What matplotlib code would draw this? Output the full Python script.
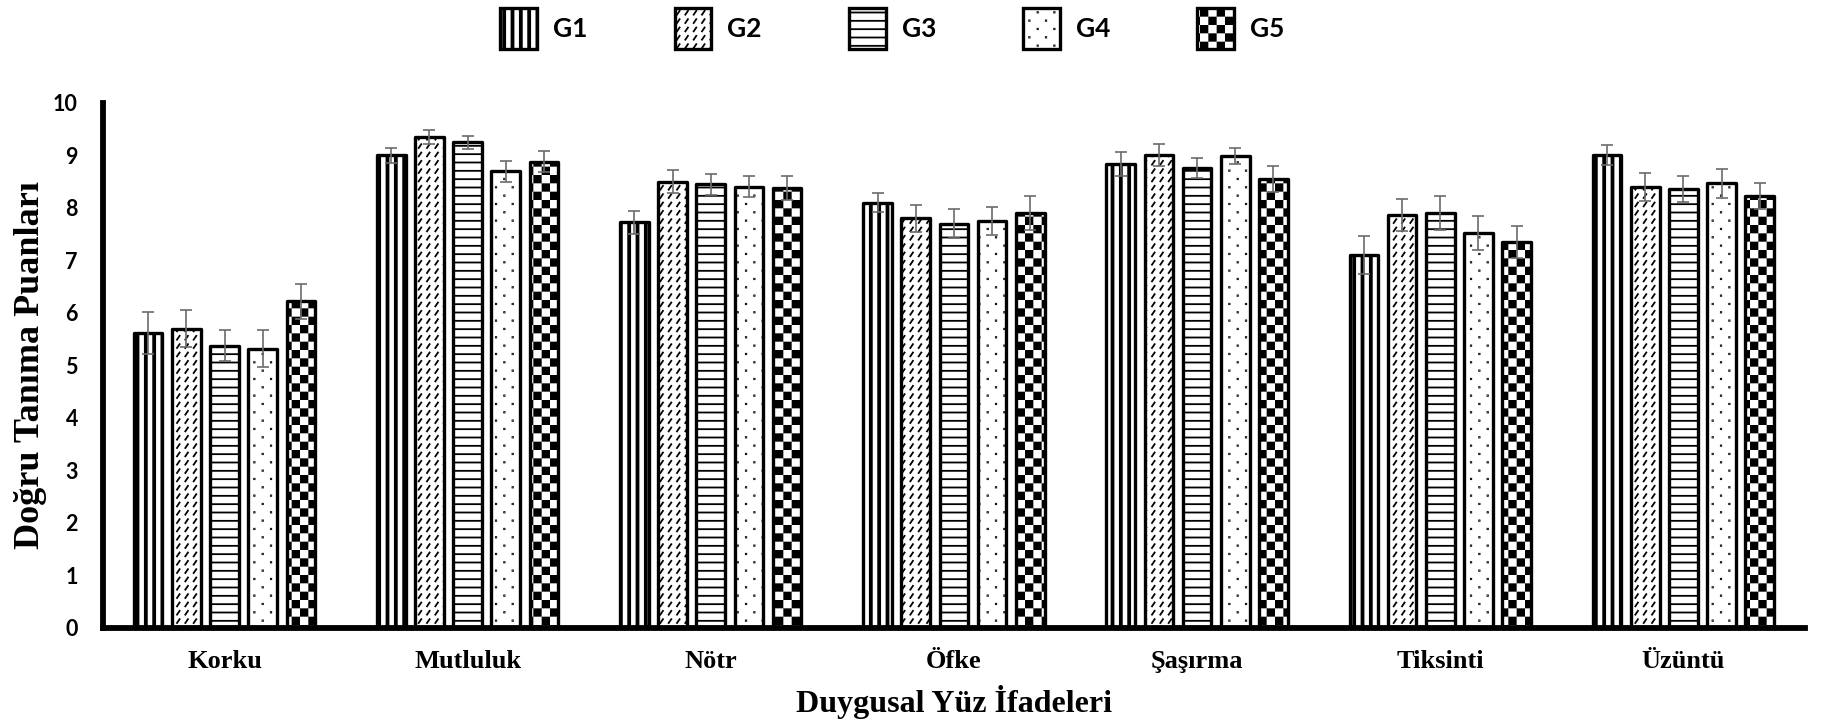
import numpy as np
import matplotlib
matplotlib.use("Agg")
import matplotlib.pyplot as plt
import matplotlib.hatch as mhatch
from matplotlib.path import Path

# data
categories = ["Korku", "Mutluluk", "Nötr", "Öfke", "Şaşırma", "Tiksinti", "Üzüntü"]
groups = ["G1", "G2", "G3", "G4", "G5"]
g1 = [5.62, 9.00, 7.73, 8.10, 8.84, 7.10, 9.01]
g2 = [5.70, 9.35, 8.50, 7.80, 9.01, 7.87, 8.40]
g3 = [5.38, 9.25, 8.45, 7.70, 8.76, 7.90, 8.36]
g4 = [5.32, 8.70, 8.40, 7.75, 8.99, 7.52, 8.47]
g5 = [6.22, 8.88, 8.38, 7.90, 8.55, 7.35, 8.23]
g1_err = [0.40, 0.15, 0.22, 0.18, 0.23, 0.36, 0.19]
g2_err = [0.35, 0.13, 0.22, 0.25, 0.21, 0.30, 0.27]
g3_err = [0.30, 0.12, 0.20, 0.28, 0.19, 0.32, 0.25]
g4_err = [0.35, 0.20, 0.20, 0.27, 0.16, 0.33, 0.28]
g5_err = [0.33, 0.20, 0.23, 0.32, 0.25, 0.30, 0.25]

HATCH_LW = 1.3  # points
plt.rcParams['hatch.linewidth'] = HATCH_LW


# extra hatch letters: c = checkerboard, v = thick stripes, d = dots, s = short slashes
class TileHatch(mhatch.HatchPatternBase):
    def __init__(self, hatch, density):
        grow = HATCH_LW / 72.0 / 2  # stroke grows filled shapes, in tile units
        n = 12
        self.shapes = []
        if 'c' in hatch:
            c = 1.0 / n
            for i in range(n):
                for j in range(n):
                    if (i + j) % 2 == 0:
                        self.rect(i * c + grow, j * c + grow, c - 2 * grow, c - 2 * grow)
        if 'v' in hatch:
            w = 0.02
            for i in range(n):
                self.rect(i / n + (1 / n - w) / 2, 0.0, w, 1.0)
        if 'd' in hatch:
            s = 0.004
            for i in range(n):
                for j in range(n // 2):
                    x = j * 2 / n + (i % 2) / n + 0.5 / n
                    self.rect(x, i / n + 0.5 / n, s, s)
        if 's' in hatch:
            for i in range(n):
                for j in range(n):
                    x, y = j / n + 0.02, i / n + 0.02
                    self.shapes.append(([(x, y), (x + 0.026, y + 0.038)],
                                        [Path.MOVETO, Path.LINETO]))
        self.num_vertices = sum(len(v) for v, _ in self.shapes)

    def rect(self, x, y, w, h):
        self.shapes.append(([(x, y), (x + w, y), (x + w, y + h), (x, y + h), (x, y)],
                            [Path.MOVETO, Path.LINETO, Path.LINETO, Path.LINETO,
                             Path.CLOSEPOLY]))

    def set_vertices_and_codes(self, vertices, codes):
        k = 0
        for v, cd in self.shapes:
            vertices[k:k + len(v)] = v
            codes[k:k + len(v)] = cd
            k += len(v)


mhatch._hatch_types.append(TileHatch)
mhatch._validate_hatch_pattern = lambda hatch: None

fig = plt.figure(figsize=(18.25, 7.25), dpi=100)
ax = fig.add_axes([0.0564, 0.1338, 0.9326, 0.7242])

values = [g1, g2, g3, g4, g5]
errors = [g1_err, g2_err, g3_err, g4_err, g5_err]
hatches = ['v', 's', '--', 'd', 'c']
x = np.arange(len(categories))
slot = 0.157
for k, (vals, errs, h, name) in enumerate(zip(values, errors, hatches, groups)):
    ax.bar(x + (k - 2) * slot, vals, 0.118, yerr=errs, label=name,
           facecolor='white', edgecolor='black', linewidth=2.4, hatch=h,
           joinstyle='round', zorder=2,
           error_kw=dict(ecolor='#6b6b6b', elinewidth=1.2, capsize=4.5,
                         capthick=1.2, zorder=3))

ax.set_xlim(-0.5, len(categories) - 0.5)
ax.set_ylim(0, 10)
ax.set_yticks(range(0, 11))
ax.set_xticks(x)
ax.set_xticklabels(categories, fontfamily='Liberation Serif', fontweight='bold', fontsize=19)
for t in ax.get_yticklabels():
    t.set_fontfamily('Lato')
    t.set_fontweight('bold')
    t.set_fontsize(15.5)
ax.tick_params(axis='both', length=0)
ax.tick_params(axis='y', pad=18)
ax.tick_params(axis='x', pad=16)

for side in ['top', 'right']:
    ax.spines[side].set_visible(False)
for side in ['left', 'bottom']:
    ax.spines[side].set_linewidth(4.2)
    ax.spines[side].set_color('black')
    ax.spines[side].set_zorder(4)

ax.set_xlabel("Duygusal Yüz İfadeleri", fontfamily='Liberation Serif',
              fontweight='bold', fontsize=23)
ax.xaxis.set_label_coords(0.5, -0.108)
ax.set_ylabel("Doğru Tanıma Puanları", fontfamily='Liberation Serif',
              fontweight='bold', fontsize=26)
ax.yaxis.set_label_coords(-0.033, 0.5)

fig.legend(loc='center', bbox_to_anchor=(0.489, 0.961), ncol=5, frameon=False,
           prop=dict(family='Lato', weight='bold', size=19),
           handlelength=1.4, handleheight=2.0, handletextpad=0.6,
           columnspacing=3.3)

fig.savefig("out.png", dpi=100)
